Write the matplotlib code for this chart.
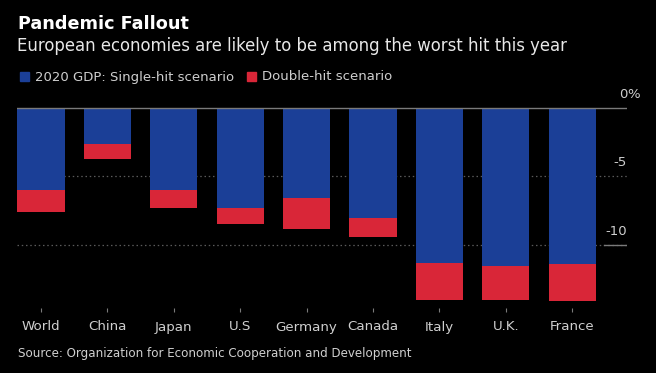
import matplotlib
matplotlib.use('Agg')
import matplotlib.pyplot as plt
import numpy as np

# 2020 GDP forecasts (%), OECD
countries = ["World", "China", "Japan", "U.S", "Germany", "Canada", "Italy", "U.K.", "France"]
single_hit = [-6.0, -2.6, -6.0, -7.3, -6.6, -8.0, -11.3, -11.5, -11.4]
double_hit = [-7.6, -3.7, -7.3, -8.5, -8.8, -9.4, -14.0, -14.0, -14.1]
y_ticks = [0, -5, -10]
y_labels = ["0", "-5", "-10"]

BLUE = "#1b3f97"
RED = "#d92638"
GREY = "#cfcfcf"
LINE = "#7a7a7a"
plt.rcParams['font.family'] = ['DejaVu Sans']

W, H = 656, 373
fig = plt.figure(figsize=(W / 100, H / 100), dpi=100, facecolor="black")
ax = fig.add_axes([17 / W, 1 - 308 / H, (627 - 17) / W, (308 - 100) / H], facecolor="black")

x = np.arange(len(countries))
single = np.array(single_hit)
double = np.array(double_hit)
ax.bar(x, double - single, bottom=single, width=0.71, color=RED, zorder=2)
ax.bar(x, single, width=0.71, color=BLUE, zorder=2)

ax.set_xlim(-0.361, 8.825)
ax.set_ylim(-14.6, 0.58)

ax.axhline(0, color=LINE, linewidth=1.0, zorder=3)
for v in y_ticks[1:]:
    ax.axhline(v, color="#5a5a5a", linewidth=0.9, linestyle=(0, (1.2, 2.2)), zorder=1)
# short solid marker under the -10 label
ax.plot([0.962, 1.0], [-10, -10], transform=ax.get_yaxis_transform(), color=LINE, lw=1.0, zorder=1)
for v, lab in zip(y_ticks, y_labels):
    ax.text(1.0, v + 1.0, lab, transform=ax.get_yaxis_transform(), ha="right", va="center",
            color=GREY, fontsize=9.5)
ax.text(1.0, 1.0, "%", transform=ax.get_yaxis_transform(), ha="left", va="center",
        color=GREY, fontsize=9.5)

for s in ax.spines.values():
    s.set_visible(False)
ax.set_yticks([])
ax.set_xticks(x)
ax.set_xticklabels(countries, fontsize=9.6, color=GREY)
ax.tick_params(axis="x", length=3, width=0.8, color=LINE, pad=6)

fig.text(18 / W, 1 - 24 / H, "Pandemic Fallout", color="white", fontsize=12.7, fontweight="bold",
         va="center", ha="left")
fig.text(17 / W, 1 - 46 / H, "European economies are likely to be among the worst hit this year",
         color="#e8e8e8", fontsize=11.9, va="center", ha="left")

# legend
fig.patches.append(plt.Rectangle((20 / W, 1 - 81 / H), 9 / W, 9 / H, color=BLUE, transform=fig.transFigure))
fig.text(35 / W, 1 - 77 / H, "2020 GDP: Single-hit scenario", color=GREY, fontsize=9.5, va="center")
fig.patches.append(plt.Rectangle((247 / W, 1 - 81 / H), 9 / W, 9 / H, color=RED, transform=fig.transFigure))
fig.text(262 / W, 1 - 77 / H, "Double-hit scenario", color=GREY, fontsize=9.5, va="center")

fig.text(18 / W, 1 - 353 / H, "Source: Organization for Economic Cooperation and Development",
         color=GREY, fontsize=8.6, va="center", ha="left")

fig.savefig("out.png", dpi=100, facecolor="black")
